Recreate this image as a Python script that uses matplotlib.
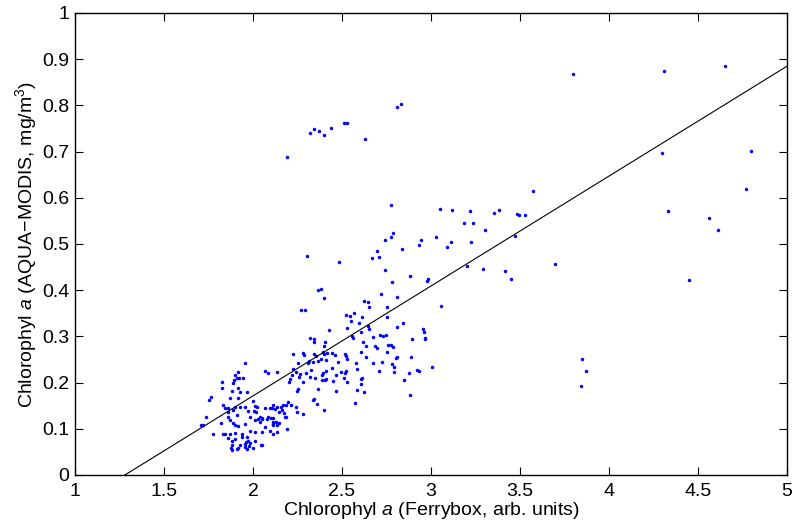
import matplotlib
matplotlib.use("Agg")
import matplotlib.pyplot as plt
import numpy as np

plt.rcParams['font.family'] = ['Liberation Sans', 'DejaVu Sans']
plt.rcParams['mathtext.fontset'] = 'custom'
plt.rcParams['mathtext.rm'] = 'Liberation Sans'
plt.rcParams['mathtext.it'] = 'Liberation Sans:italic'

# Ferrybox chlorophyll (x) vs AQUA-MODIS chlorophyll (y)
ferrybox = [
    # sparse / upper points
    2.19, 2.32, 2.34, 2.37, 2.40, 2.44, 2.51, 2.53, 2.63, 2.81, 2.83,
    3.80, 4.31, 4.65, 4.30, 4.80, 4.77, 4.33, 4.56, 4.61, 4.45,
    3.85, 3.87, 3.84, 3.573,
    2.775, 3.051, 2.787, 2.775, 2.742, 2.944, 3.028, 2.933, 3.090, 2.837,
    2.697, 2.303, 2.669, 2.708, 2.483, 2.742, 2.882, 2.781, 2.983, 2.978,
    2.365, 2.382, 2.719, 2.399, 2.809, 2.624, 2.646, 2.652, 3.056, 2.753,
    2.270, 2.292, 2.567, 2.522, 2.545, 2.612, 2.753, 2.551, 2.596, 2.843,
    2.646, 2.528, 2.652, 2.809, 2.427, 2.607, 2.955, 2.961, 2.320, 2.343,
    2.343, 2.556, 2.562, 2.674, 2.713, 2.730, 2.747, 2.893, 2.966, 2.966,
    2.405, 2.618, 2.399, 2.635, 2.685, 2.697, 2.758, 2.775, 2.787,
    3.118, 3.219, 3.354, 3.382, 3.483, 3.494, 3.528, 3.185, 3.236, 3.303,
    3.112, 3.225, 3.472, 3.202, 3.292, 3.416, 3.449, 3.697,
    # middle cluster
    2.753, 2.607, 2.517, 2.522, 2.528, 2.635, 2.809, 2.803, 2.888, 2.579,
    2.674, 2.725, 2.781, 2.792, 2.584, 2.494, 2.517, 2.522, 2.708, 2.792,
    2.921, 2.933, 3.006, 2.876, 2.511, 2.607, 2.612, 2.848, 2.528, 2.607,
    2.584, 2.624, 2.882, 2.573,
    2.225, 2.281, 2.287, 2.343, 2.354, 2.393, 2.399, 2.416, 2.444, 2.461,
    2.382, 2.410, 2.365, 2.315, 2.337, 2.309, 2.253, 2.478, 1.955, 2.067,
    2.084, 2.135, 2.225, 2.242, 2.219, 2.208, 2.202, 2.258, 2.264, 2.298,
    2.326, 2.348, 2.320, 2.388, 2.393, 2.410, 2.404, 2.388, 2.410, 2.444,
    2.466, 2.449, 2.281, 2.253, 2.247, 2.365, 2.466, 2.337, 2.343, 2.360,
    2.399,
    # lower-left cluster
    1.916, 1.899, 1.910, 1.893, 1.921, 1.944, 1.888, 1.826, 1.826, 1.882,
    1.916, 1.927, 1.966, 1.916, 1.764, 1.753, 1.871, 1.831, 1.843, 1.860,
    1.899, 1.927, 1.955, 1.888, 2.011, 2.022, 2.067, 2.107, 2.112, 1.736,
    1.860, 1.860, 1.910, 1.972, 1.983, 2.017, 2.039, 2.051, 2.084, 2.101,
    1.708, 1.719, 1.820, 1.871, 1.888, 1.899, 1.916, 1.955, 2.011, 2.067,
    2.112, 1.775, 1.831, 1.843, 1.871, 1.899, 1.938, 1.966, 1.983, 2.011,
    2.051, 2.112, 1.860, 1.882, 1.899, 1.938, 1.972, 2.011, 1.882, 1.927,
    1.955, 1.983, 2.051, 1.882, 1.910,
    2.000, 2.006, 2.096, 2.124, 2.135, 2.157, 2.169, 2.185, 2.163, 2.146,
    2.174, 2.185, 2.197, 2.213, 2.242, 2.247, 2.281, 2.079, 2.112, 2.112,
    2.129, 2.112, 2.135, 2.146, 2.180, 2.191, 2.028, 2.051, 2.039, 2.096,
    2.135, 2.045, 2.000, 1.961, 1.978, 1.876, 1.955, 1.966, 1.916,
]
modis = [
    0.688, 0.740, 0.748, 0.745, 0.735, 0.750, 0.762, 0.762, 0.727, 0.797, 0.802,
    0.868, 0.875, 0.886, 0.697, 0.702, 0.620, 0.572, 0.556, 0.530, 0.423,
    0.250, 0.225, 0.192, 0.615,
    0.584, 0.576, 0.524, 0.515, 0.509, 0.509, 0.515, 0.498, 0.494, 0.489,
    0.485, 0.474, 0.470, 0.472, 0.461, 0.444, 0.431, 0.418, 0.424, 0.420,
    0.400, 0.403, 0.392, 0.383, 0.385, 0.377, 0.374, 0.364, 0.366, 0.364,
    0.357, 0.357, 0.351, 0.346, 0.344, 0.342, 0.342, 0.333, 0.329, 0.329,
    0.323, 0.318, 0.316, 0.320, 0.314, 0.310, 0.316, 0.310, 0.297, 0.294,
    0.288, 0.301, 0.297, 0.299, 0.303, 0.301, 0.303, 0.294, 0.297, 0.294,
    0.288, 0.288, 0.279, 0.279, 0.279, 0.275, 0.281, 0.281, 0.277,
    0.574, 0.571, 0.567, 0.574, 0.565, 0.563, 0.563, 0.545, 0.545, 0.530,
    0.504, 0.504, 0.517, 0.452, 0.446, 0.442, 0.424, 0.457,
    0.266, 0.266, 0.262, 0.258, 0.251, 0.255, 0.255, 0.253, 0.255, 0.242,
    0.242, 0.245, 0.240, 0.234, 0.229, 0.223, 0.221, 0.225, 0.225, 0.223,
    0.227, 0.225, 0.234, 0.221, 0.210, 0.208, 0.210, 0.206, 0.201, 0.197,
    0.184, 0.180, 0.173, 0.156,
    0.262, 0.264, 0.260, 0.262, 0.258, 0.266, 0.262, 0.264, 0.264, 0.260,
    0.251, 0.249, 0.247, 0.247, 0.245, 0.242, 0.242, 0.245, 0.242, 0.225,
    0.221, 0.223, 0.229, 0.223, 0.216, 0.208, 0.201, 0.212, 0.219, 0.221,
    0.227, 0.210, 0.212, 0.216, 0.221, 0.225, 0.206, 0.206, 0.208, 0.232,
    0.216, 0.203, 0.201, 0.186, 0.182, 0.186, 0.182, 0.162, 0.165, 0.154,
    0.141,
    0.223, 0.216, 0.210, 0.206, 0.210, 0.210, 0.199, 0.201, 0.188, 0.182,
    0.188, 0.180, 0.180, 0.167, 0.169, 0.162, 0.167, 0.152, 0.145, 0.145,
    0.147, 0.147, 0.147, 0.141, 0.149, 0.147, 0.145, 0.145, 0.152, 0.126,
    0.136, 0.126, 0.130, 0.139, 0.126, 0.136, 0.126, 0.123, 0.126, 0.123,
    0.108, 0.108, 0.113, 0.119, 0.113, 0.108, 0.106, 0.110, 0.119, 0.104,
    0.108, 0.089, 0.089, 0.089, 0.089, 0.091, 0.089, 0.082, 0.095, 0.093,
    0.093, 0.089, 0.080, 0.074, 0.078, 0.082, 0.074, 0.074, 0.065, 0.065,
    0.067, 0.069, 0.065, 0.054, 0.056,
    0.160, 0.139, 0.145, 0.143, 0.147, 0.147, 0.152, 0.152, 0.141, 0.136,
    0.134, 0.126, 0.158, 0.152, 0.147, 0.136, 0.132, 0.121, 0.123, 0.115,
    0.115, 0.110, 0.108, 0.113, 0.126, 0.100, 0.121, 0.121, 0.115, 0.095,
    0.093, 0.065, 0.058, 0.071, 0.063, 0.058, 0.061, 0.056, 0.058,
]

# regression line
fit_slope = 0.2379
fit_intercept = -0.3046

x_ticks = [1, 1.5, 2, 2.5, 3, 3.5, 4, 4.5, 5]
x_ticklabels = ['1', '1.5', '2', '2.5', '3', '3.5', '4', '4.5', '5']
y_ticks = [0, 0.1, 0.2, 0.3, 0.4, 0.5, 0.6, 0.7, 0.8, 0.9, 1]
y_ticklabels = ['0', '0.1', '0.2', '0.3', '0.4', '0.5', '0.6', '0.7', '0.8', '0.9', '1']

fig = plt.figure(figsize=(7.95, 5.28), dpi=100)
ax = fig.add_axes([0.0943, 0.1004, 0.8957, 0.875])

ax.plot(ferrybox, modis, '.', color=(0, 0, 1), markersize=5, markeredgewidth=0)
xl = np.array([1.0, 5.0])
ax.plot(xl, fit_slope * xl + fit_intercept, '-', color='black', linewidth=0.8)

ax.set_xlim(1, 5)
ax.set_ylim(0, 1)
ax.set_xticks(x_ticks)
ax.set_xticklabels(x_ticklabels)
ax.set_yticks(y_ticks)
ax.set_yticklabels(y_ticklabels)
ax.tick_params(direction='in', length=6, width=0.8, top=True, right=True,
               labelsize=14, pad=4, colors='black')
ax.tick_params(axis='x', pad=6)
for s in ax.spines.values():
    s.set_linewidth(1.0)

ax.set_xlabel(r'Chlorophyl $a$ (Ferrybox, arb. units)', fontsize=14, labelpad=0)
ax.set_ylabel('Chlorophyl $a$ (AQUA\u2212MODIS, mg/m$^3$)', fontsize=14, labelpad=2)

fig.savefig('out.png', dpi=100)
